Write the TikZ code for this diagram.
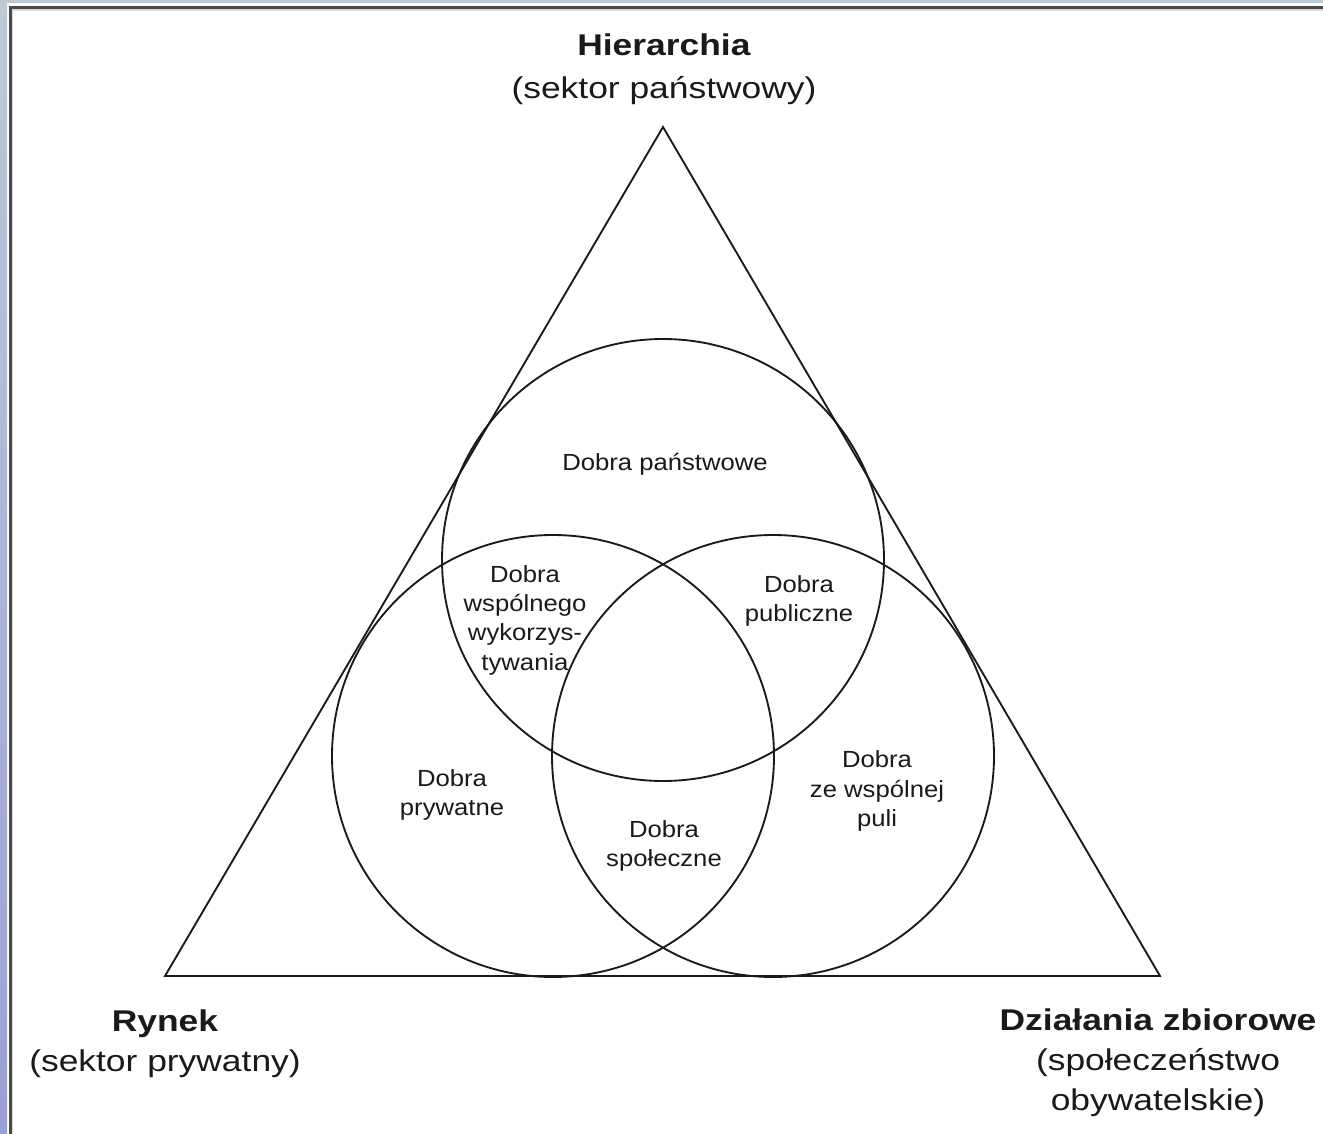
\documentclass[tikz,border=0pt]{standalone}
\usepackage{fontspec}
\setmainfont{Liberation Sans}
\newfontfamily\titlefont{Liberation Sans}[FakeStretch=1.18]
\newfontfamily\innerfont{Liberation Sans}[FakeStretch=1.1]
\definecolor{stripA}{HTML}{BCCAD6}
\definecolor{stripB}{HTML}{9AA0D8}
\definecolor{framec}{HTML}{4A4A4A}
\definecolor{inkc}{HTML}{1A1A1A}
\begin{document}
\begin{tikzpicture}[x=0.75pt,y=-0.75pt,
  title/.style={align=center,inner sep=0pt,text=inkc,font=\titlefont\fontsize{22.5}{30}\selectfont},
  inner/.style={align=center,inner sep=0pt,text=inkc,font=\innerfont\fontsize{17.5}{22}\selectfont},
  ring/.style={draw=inkc,line width=1.4pt,circle,minimum size=331.5pt,inner sep=0pt},
  edge/.style={draw=inkc,line width=1.4pt}]
\useasboundingbox (0,0) rectangle (1323,1134);
\fill[white] (0,0) rectangle (1323,1134);
\shade[top color=stripA,bottom color=stripB] (0,0) rectangle (7,1134);
\fill[stripA] (0,0) rectangle (1323,3.5);
\draw[framec,line width=2pt] (10.3,1134) -- (10.3,7.8) -- (1323,7.8);
\draw[black!15,line width=0.8pt] (12.5,1134) -- (12.5,10) -- (1323,10);
% triangle
\coordinate (apex) at (663,127);
\coordinate (bl) at (165,976);
\coordinate (br) at (1160,976);
\draw[edge,line join=miter] (apex) -- (bl) -- (br) -- cycle;
% circles
\node[ring] (ctop) at (663,560) {};
\node[ring] (cleft) at (553,756) {};
\node[ring] (cright) at (773,756) {};
% corner labels
\node[title,font=\titlefont\fontsize{22.5}{32.5}\selectfont] (hier) at (664,69) {\textbf{Hierarchia}\\(sektor państwowy)};
\node[title] (rynek) at (165,1044) {\textbf{Rynek}\\(sektor prywatny)};
\node[title] (dzial) at (1158,1063) {\textbf{Działania zbiorowe}\\(społeczeństwo\\obywatelskie)};
% inner labels
\node[inner] (panst) at (665,464) {Dobra państwowe};
\node[inner] (wsp) at (525,620) {Dobra\\wspólnego\\wykorzys-\\tywania};
\node[inner] (publ) at (799,601) {Dobra\\publiczne};
\node[inner] (pryw) at (452,795) {Dobra\\prywatne};
\node[inner] (spol) at (664,846) {Dobra\\społeczne};
\node[inner] (puli) at (877,791) {Dobra\\ze wspólnej\\puli};
\end{tikzpicture}
\end{document}
